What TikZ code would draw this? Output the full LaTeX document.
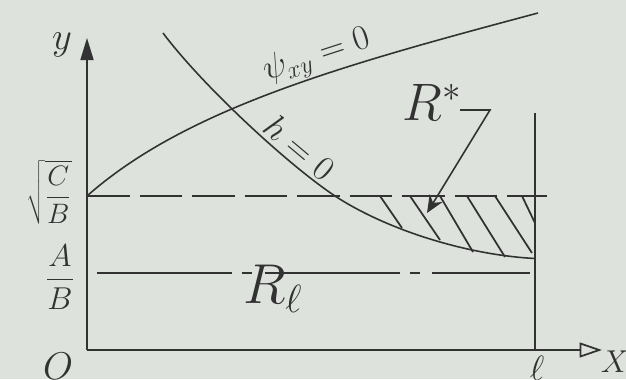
\RequirePackage{fix-cm}
\documentclass[tikz,border=0pt]{standalone}
\usetikzlibrary{arrows.meta}
\definecolor{paper}{RGB}{221,226,221}
\definecolor{ink}{RGB}{50,50,50}

\begin{document}
\begin{tikzpicture}[
    curve/.style={ink, line width=0.9pt},
    axis/.style={ink, line width=1pt},
    hatch/.style={ink, line width=1pt},
    lbl/.style={ink, inner sep=0pt, font=\fontsize{18}{20}\selectfont},
    biglbl/.style={ink, inner sep=0pt, font=\fontsize{32}{34}\selectfont}
]

\fill[paper] (-1.74,-0.58) rectangle (10.78,7.0);
\useasboundingbox (-1.74,-0.58) rectangle (10.78,7.0);

\coordinate (origin) at (0,0);
\coordinate (ytop) at (0,6.24);
\coordinate (xend) at (10.3,0);
\coordinate (lbot) at (8.96,0);
\coordinate (ltop) at (8.96,4.74);

\draw[axis, -{Triangle[length=0.44cm, width=0.26cm]}] (origin) -- (ytop);
\draw[axis, -{Triangle[open, length=0.45cm, width=0.3cm]}] (origin) -- (xend);
\draw[axis] (lbot) -- (ltop);

% levels
\coordinate (cb) at (0,3.08);
\coordinate (cbend) at (9.2,3.08);
\coordinate (ab) at (0.2,1.54);
\coordinate (abend) at (8.86,1.54);
\draw[curve, dash pattern=on 0.85cm off 0.2cm] (cb) -- (cbend);
\draw[curve, dash pattern=on 2.7cm off 0.2cm on 0.2cm off 0.25cm] (ab) -- (abend);

% curves
\coordinate (psiend) at (9.02,6.74);
\coordinate (htop) at (1.52,6.34);
\coordinate (hmid) at (4.96,3.08);
\coordinate (hend) at (8.96,1.83);
\draw[curve] (cb) .. controls (2.0,4.85) and (5.2,5.72) .. (psiend);
\draw[curve] (htop) .. controls (2.3,5.3) and (4.0,3.72) .. (hmid)
  .. controls (6.0,2.4) and (7.6,1.9) .. (hend);

% hatching
\foreach \xa/\xb/\yb in {5.86/6.3/2.44, 6.46/7.06/2.2, 7.06/7.72/1.96, 7.6/8.36/1.86, 8.16/8.9/1.94, 8.7/8.96/2.54}
  \draw[hatch] (\xa,3.08) -- (\xb,\yb);

% labels
\node[lbl, font=\fontsize{22}{24}\selectfont] (ylabel) at (-0.5,6.1) {$y$};
\node[lbl, font=\fontsize{16}{18}\selectfont] (cblabel) at (-0.76,3.16) {$\displaystyle\sqrt{\frac{C}{B}}$};
\node[lbl] (ablabel) at (-0.54,1.46) {$\displaystyle\frac{A}{B}$};
\node[lbl, font=\fontsize{22}{24}\selectfont] (olabel) at (-0.58,-0.32) {$O$};
\node[lbl] (xlabel) at (10.56,-0.24) {$X$};
\node[lbl, font=\fontsize{20}{22}\selectfont] (llabel) at (9.0,-0.36) {$\ell$};
\node[lbl, font=\fontsize{20}{22}\selectfont, rotate=18] (psilabel) at (4.6,5.86) {$\psi_{xy}=0$};
\node[lbl, font=\fontsize{20}{22}\selectfont, rotate=-40] (hlabel) at (4.26,4.05) {$h=0$};
\node[biglbl, font=\fontsize{30}{32}\selectfont] (rstar) at (6.9,4.95) {$R^{*}$};
\node[biglbl] (rl) at (3.72,1.22) {$R_{\ell}$};

% pointer to R*
\coordinate (kstart) at (7.46,4.8);
\coordinate (kink) at (8.06,4.8);
\coordinate (tip) at (6.8,2.74);
\draw[curve, -{Stealth[length=0.35cm, width=0.3cm]}] (kstart) -- (kink) -- (tip);

\end{tikzpicture}
\end{document}
